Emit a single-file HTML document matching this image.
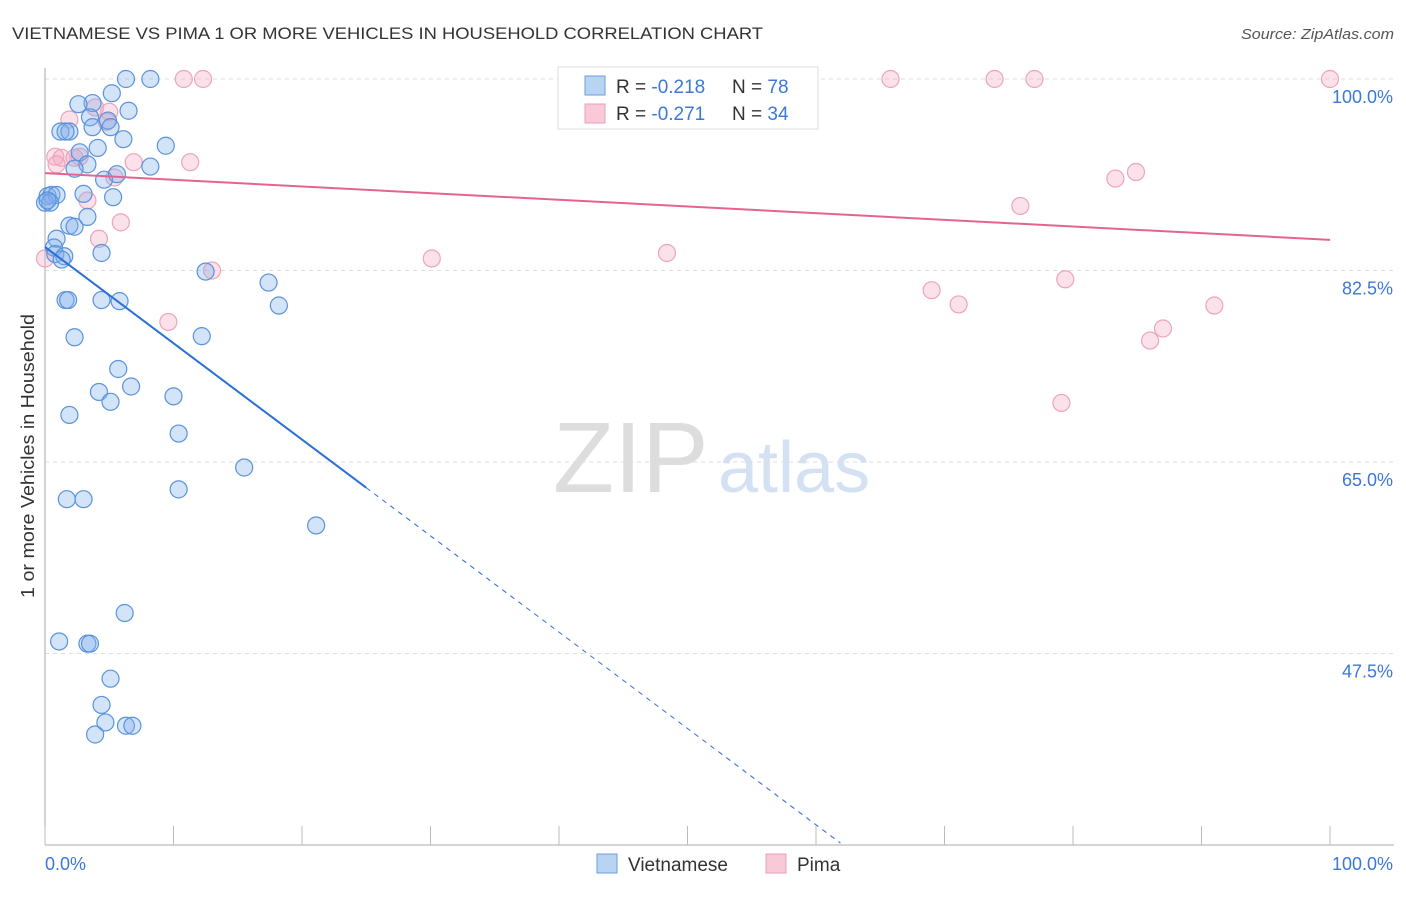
<!DOCTYPE html>
<html><head><meta charset="utf-8"><style>
body{margin:0;background:#fff;font-family:"Liberation Sans",sans-serif;}
svg text{font-family:"Liberation Sans",sans-serif;}
</style></head><body>
<svg width="1406" height="892" id="c">
<text x="12" y="39" font-size="17" fill="#333" textLength="751" lengthAdjust="spacingAndGlyphs">VIETNAMESE VS PIMA 1 OR MORE VEHICLES IN HOUSEHOLD CORRELATION CHART</text>
<text x="1241" y="39" font-size="15" fill="#555" font-style="italic" textLength="153" lengthAdjust="spacingAndGlyphs">Source: ZipAtlas.com</text>
<text x="0" y="0" font-size="18" fill="#333" text-anchor="middle" textLength="284" lengthAdjust="spacingAndGlyphs" transform="translate(34,456) rotate(-90)">1 or more Vehicles in Household</text>
<g>
<text x="553" y="492" font-size="100" fill="#ddd" font-family="Liberation Serif,serif">ZIP</text>
<text x="718" y="492" font-size="72" fill="#d3e1f3">atlas</text>
</g>
<g id="grid"></g><g id="pts"></g><g id="lines"></g>
<g>
<rect x="558" y="67" width="260" height="62" fill="#fff" stroke="#ddd"/>
<rect x="585" y="76" width="20" height="19" fill="#b9d3f3" stroke="#6a9ee0"/>
<rect x="585" y="104" width="20" height="19" fill="#f9c9d8" stroke="#eaa0ba"/>
<text x="616" y="93" font-size="19" fill="#333">R = <tspan fill="#3b78d8">-0.218</tspan></text>
<text x="732" y="93" font-size="19" fill="#333">N = <tspan fill="#3b78d8">78</tspan></text>
<text x="616" y="120" font-size="19" fill="#333">R = <tspan fill="#3b78d8">-0.271</tspan></text>
<text x="732" y="120" font-size="19" fill="#333">N = <tspan fill="#3b78d8">34</tspan></text>
</g>
<g>
<rect x="597" y="854" width="20" height="19" fill="#b9d3f3" stroke="#6a9ee0"/>
<text x="628" y="871" font-size="19" fill="#333">Vietnamese</text>
<rect x="766" y="854" width="20" height="19" fill="#f9c9d8" stroke="#eaa0ba"/>
<text x="797" y="871" font-size="19" fill="#333">Pima</text>
</g>
</svg>
<script>
const yTicks=[100,82.5,65,47.5];
const xTickLabels=["0.0%","100.0%"];
const blueX=[6.3,8.2,5.2,3.7,2.6,6.5,3.5,4.9,3.7,1.2,1.9,1.6,5.1,6.1,9.4,4.1,2.7,3.3,8.2,2.3,4.6,5.6,3.0,5.3,0.2,0.5,0.9,0,0.4,3.3,1.9,2.3,0.9,0.7,0.8,1.5,1.3,4.4,12.5,17.4,1.6,1.8,4.4,5.8,18.2,12.2,2.3,5.7,4.2,6.7,10.0,5.1,1.9,10.4,15.5,1.7,3.0,10.4,21.1,6.2,1.1,3.3,3.5,5.1,4.4,4.7,3.9,6.3,6.8,0.2];
const blueY=[100,100,98.7,97.8,97.7,97.1,96.5,96.2,95.6,95.2,95.2,95.2,95.6,94.5,93.9,93.7,93.3,92.2,92.0,91.8,90.8,91.3,89.5,89.2,89.3,89.4,89.4,88.7,88.7,87.4,86.6,86.5,85.4,84.6,84.0,83.8,83.5,84.1,82.4,81.4,79.8,79.8,79.8,79.7,79.3,76.5,76.4,73.5,71.4,71.9,71.0,70.5,69.3,67.6,64.5,61.6,61.6,62.5,59.2,51.2,48.6,48.4,48.4,45.2,42.8,41.2,40.1,40.9,40.9,88.9];
const pinkX=[10.8,12.3,65.8,73.9,77.0,100,3.9,5.0,1.9,4.8,0.8,1.3,2.7,2.3,6.9,11.3,0.9,5.4,3.3,5.9,4.2,0,30.1,48.4,13.0,75.9,83.3,84.9,9.6,69.0,71.1,79.4,91.0,87.0,86.0,79.1];
const pinkY=[100,100,100,100,100,100,97.4,97.0,96.3,96.1,92.9,92.8,92.9,92.8,92.4,92.4,92.2,91.0,88.9,86.9,85.4,83.6,83.6,84.1,82.5,88.4,90.9,91.5,77.8,80.7,79.4,81.7,79.3,77.2,76.1,70.4];
const blueTrend=[84.65,-88.0];
const pinkTrend=[91.4,-6.1];
const NS="http://www.w3.org/2000/svg";
const X=v=>45+v*12.85, Y=v=>79+(100-v)*10.943;
function mk(t,a,p){const e=document.createElementNS(NS,t);for(const k in a)e.setAttribute(k,a[k]);p.appendChild(e);return e;}
const g=document.getElementById('grid');
yTicks.forEach((t,i)=>{
 const l=mk('line',{x1:45,x2:1394,y1:Y(t),y2:Y(t),stroke:'#ddd','stroke-dasharray':'4,4'},g);
 
 
 const tx=mk('text',{x:1393,y:Y(t)+24,'font-size':18,fill:'#3b78d8','text-anchor':'end'},g);
 tx.textContent=t.toFixed(1)+'%';
 
 
});
mk('line',{x1:45,x2:45,y1:68,y2:845,stroke:'#aaa'},g);
mk('line',{x1:45,x2:1394,y1:845,y2:845,stroke:'#aaa'},g);
for(let i=0;i<=10;i++){const t=mk('line',{x1:X(i*10),x2:X(i*10),y1:826,y2:845,stroke:'#bbb'},g);
 
 }
[[0,'start',45],[1,'end',1393]].forEach(([i,a,x])=>{const t=mk('text',{x:x,y:870,'font-size':18,fill:'#3b78d8','text-anchor':a},g);t.textContent=xTickLabels[i];
 
 });
const p=document.getElementById('pts');
function dots(xs,ys,f,s,n){xs.forEach((x,i)=>{const c=mk('circle',{cx:X(x),cy:Y(ys[i]),r:8.5,fill:f,stroke:s,'stroke-width':1.2},p);
 
 });}
dots(pinkX,pinkY,'rgba(244,170,196,0.35)','#eda3bd','pima-point');
dots(blueX,blueY,'rgba(130,175,235,0.35)','#5a93dc','vietnamese-point');
const L=document.getElementById('lines');
const tr=(t,x)=>t[0]+t[1]*x/100;
let b1=mk('line',{x1:X(0),y1:Y(tr(blueTrend,0)),x2:X(25),y2:Y(tr(blueTrend,25)),stroke:'#2a6fd6','stroke-width':2},L);


let b2=mk('line',{x1:X(25),y1:Y(tr(blueTrend,25)),x2:X(61.9),y2:Y(tr(blueTrend,61.9)),stroke:'#2a6fd6','stroke-width':1,'stroke-dasharray':'5,5'},L);


let pl=mk('line',{x1:X(0),y1:Y(tr(pinkTrend,0)),x2:X(100),y2:Y(tr(pinkTrend,100)),stroke:'#e4648f','stroke-width':2},L);


</script>
</body></html>
